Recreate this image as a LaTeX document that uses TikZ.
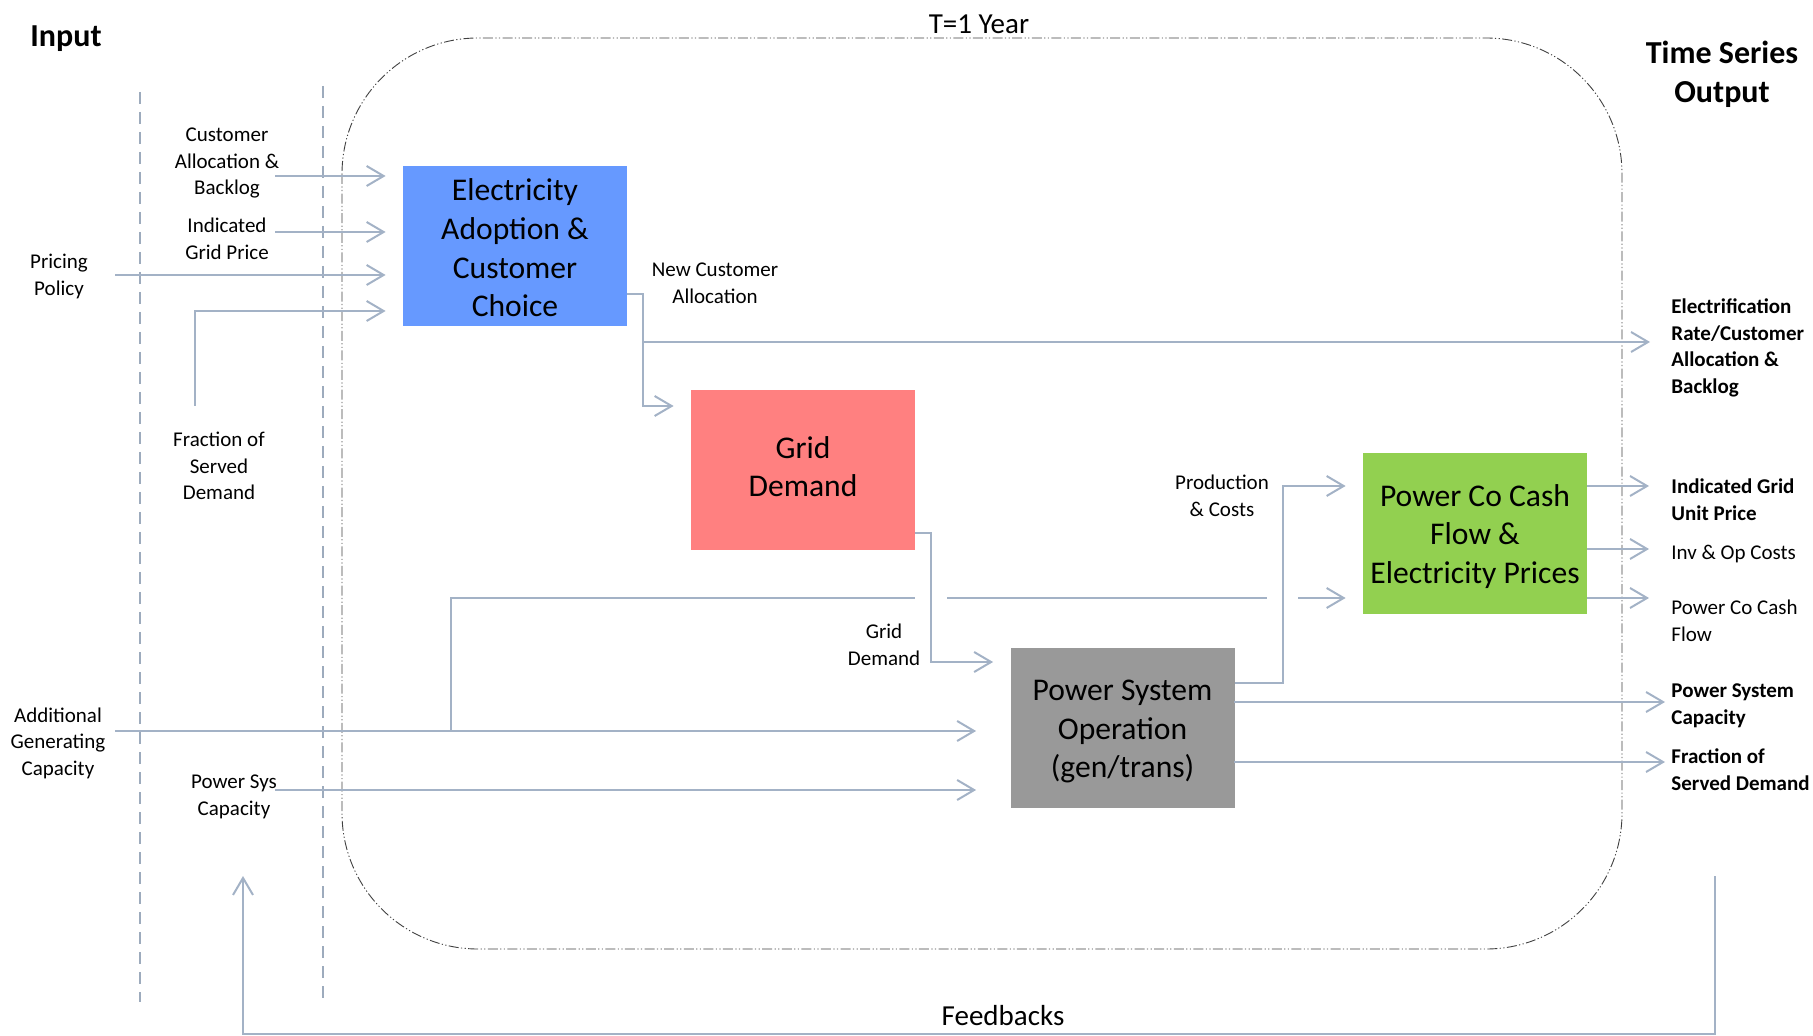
\documentclass[tikz,border=0pt]{standalone}
\usepackage{fontspec}
\setmainfont{Carlito}
\usetikzlibrary{arrows.meta}
\definecolor{conn}{HTML}{A3B2C6}
\definecolor{dashc}{HTML}{9DABBD}
\definecolor{blueC}{HTML}{6699FF}
\definecolor{pinkC}{HTML}{FF8080}
\definecolor{grayC}{HTML}{999999}
\definecolor{greenC}{HTML}{92D050}
\tikzset{
  box/.style={minimum width=112pt, minimum height=80pt, inner sep=0pt},
  boxtext/.style={inner sep=0pt, align=center, font=\fontsize{15.8}{19.3}\selectfont},
  lbl/.style={inner sep=0pt, align=center, yshift=-1pt, font=\fontsize{10.5}{13.3}\selectfont},
  olbl/.style={inner sep=0pt, align=left, anchor=west, yshift=-1pt, font=\fontsize{10.5}{13.3}\selectfont},
  bolbl/.style={olbl, font=\fontsize{10.5}{13.3}\selectfont\bfseries},
  title/.style={inner sep=0pt, align=center, yshift=-1pt, font=\fontsize{16}{19.5}\selectfont\bfseries},
  bigl/.style={inner sep=0pt, yshift=-0.6pt, font=\fontsize{14.5}{17}\selectfont},
  conline/.style={draw=conn, line width=1pt},
  arr/.style={conline, -{Straight Barb[length=8.5pt,width=10pt]}},
  sepline/.style={draw=dashc, line width=0.8pt, dash pattern=on 6pt off 4pt},
  yearbox/.style={draw=black!75, line width=0.45pt, rounded corners=68pt,
    dash pattern=on 5pt off 1.2pt on 0.6pt off 1.2pt on 0.6pt off 1.2pt}
}
\begin{document}
\begin{tikzpicture}[x=0.5pt,y=-0.5pt]
\useasboundingbox (0,0) rectangle (1813,1036);

% time frame
\draw[yearbox] (342,38) rectangle (1622,949);
\node[bigl] (year) at (979,23) {T=1 Year};

% separators
\coordinate (s1t) at (140,92);  \coordinate (s1b) at (140,1002);
\coordinate (s2t) at (323,86);  \coordinate (s2b) at (323,998);
\draw[sepline] (s1t) -- (s1b);
\draw[sepline] (s2t) -- (s2b);

% titles
\node[title] (input) at (66,37) {Input};
\node[title] (tso) at (1722,72) {Time Series\\Output};

% boxes
\node[box, fill=blueC] (adopt) at (515,246) {};
\node[boxtext] (adoptT) at ([yshift=-1pt]adopt.center) {Electricity\\Adoption \&\\Customer\\Choice};
\node[box, fill=pinkC] (gd) at (803,470) {};
\node[boxtext] (gdT) at ([yshift=1.75pt]gd.center) {Grid\\Demand};
\node[box, fill=grayC] (pso) at (1122.5,728) {};
\node[boxtext] (psoT) at ([yshift=-1.75pt]pso.center) {Power System\\Operation\\(gen/trans)};
\node[box, fill=greenC] (pcf) at (1475,533.5) {};
\node[boxtext] (pcfT) at ([yshift=-1.5pt]pcf.center) {Power Co Cash\\Flow \&\\Electricity Prices};

% input labels
\node[lbl] (cab) at (227,161) {Customer\\Allocation \&\\Backlog};
\node[lbl] (igp) at (227,237) {Indicated\\Grid Price};
\node[lbl] (pp) at (59,274.5) {Pricing\\Policy};
\node[lbl] (fsd) at (219,464) {Fraction of\\Served\\Demand};
\node[lbl] (agc) at (58,741) {Additional\\Generating\\Capacity};
\node[lbl] (psc) at (234,795) {Power Sys\\Capacity};

% inner labels
\node[lbl] (nca) at (715,281.5) {New Customer\\Allocation};
\node[lbl] (gdl) at (884,643) {Grid\\Demand};
\node[lbl] (pc) at (1222,494) {Production\\\& Costs};

% output labels
\node[bolbl] (elec) at (1671,346) {Electrification\\Rate/Customer\\Allocation \&\\Backlog};
\node[bolbl] (igu) at (1671,497.5) {Indicated Grid\\Unit Price};
\node[olbl] (ioc) at (1671,552) {Inv \& Op Costs};
\node[olbl] (pccf) at (1671,619) {Power Co Cash\\Flow};
\node[bolbl] (pscap) at (1671,704) {Power System\\Capacity};
\node[bolbl] (fsdo) at (1671,767.5) {Fraction of\\Served Demand};

\node[bigl] (fb) at (1003,1014) {Feedbacks};

% inputs to adoption box
\coordinate (i1) at (275,176);
\coordinate (i2) at (275,232);
\coordinate (i3) at (115,275);
\coordinate (i4) at (195,406);
\coordinate (i4b) at (195,311);
\draw[arr, shorten >=8.5pt] (i1) -- (i1 -| adopt.west);
\draw[arr, shorten >=8.5pt] (i2) -- (i2 -| adopt.west);
\draw[arr, shorten >=8.5pt] (i3) -- (i3 -| adopt.west);
\draw[arr, shorten >=8.5pt] (i4) -- (i4b) -- (i4b -| adopt.west);

% adoption outputs
\coordinate (j1) at (643,294);
\coordinate (j2) at (643,342);
\draw[arr, shorten >=8.5pt] ([yshift=-24pt]adopt.east) -- (j1) |- ([yshift=32pt]gd.west);
\draw[arr, shorten >=10.5pt] (j2) -- (j2 -| elec.west);

% grid demand to power system
\coordinate (k0) at (931,533);
\draw[arr, shorten >=8.5pt] ([yshift=-31.5pt]gd.east) -- (k0) |- ([yshift=33pt]pso.west);

% additional generating capacity
\coordinate (a0) at (115,731);
\coordinate (a1) at (451,731);
\coordinate (a2) at (451,598);
\coordinate (g1) at (915,598);
\coordinate (g2) at (947,598);
\coordinate (g3) at (1267,598);
\coordinate (g4) at (1298,598);
\draw[arr, shorten >=17pt] (a0) -- (a0 -| pso.west);
\draw[conline] (a1) -- (a2) -- (g1);
\draw[conline] (g2) -- (g3);
\draw[arr, shorten >=8.5pt] (g4) -- (g4 -| pcf.west);

% power sys capacity
\coordinate (p0) at (275,790);
\draw[arr, shorten >=17pt] (p0) -- (p0 -| pso.west);

% production & costs
\coordinate (m0) at (1283,683);
\draw[arr, shorten >=8.5pt] ([yshift=22.5pt]pso.east) -- (m0) |- ([yshift=23.75pt]pcf.west);

% green outputs
\coordinate (q1) at (1587,486);
\coordinate (q2) at (1587,549);
\coordinate (q3) at (1587,598);
\draw[arr, shorten >=11pt] (q1) -- (q1 -| igu.west);
\draw[arr, shorten >=11pt] (q2) -- (q2 -| ioc.west);
\draw[arr, shorten >=11pt] (q3) -- (q3 -| pccf.west);

% power system outputs
\coordinate (r1) at (1234,702);
\coordinate (r2) at (1234,762);
\draw[arr, shorten >=3pt] (r1) -- (r1 -| pscap.west);
\draw[arr, shorten >=3pt] (r2) -- (r2 -| fsdo.west);

% feedback loop
\coordinate (f0) at (1715,876);
\coordinate (f1) at (1715,1034);
\coordinate (f2) at (243,1034);
\coordinate (f3) at (243,876);
\draw[arr] (f0) -- (f1) -- (f2) -- (f3);
\end{tikzpicture}
\end{document}
